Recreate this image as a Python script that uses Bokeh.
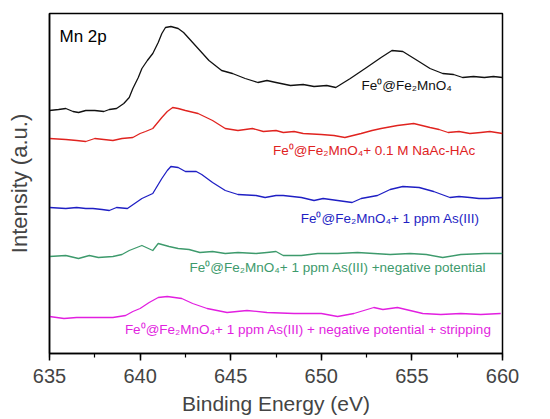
from bokeh.plotting import figure
from bokeh.models import Range1d, FixedTicker, Label
from bokeh.embed import file_html
from bokeh.resources import INLINE

# ---- data (binding energy in eV, intensity in arbitrary units, already offset) ----
e_black = [635.0, 635.5, 635.9, 636.3, 636.6, 637.0, 637.5, 638.0, 638.3, 638.7, 639.1, 639.4, 639.6,
           639.9, 640.1, 640.4, 640.7, 641.0, 641.2, 641.4, 641.7, 642.1, 642.4,
           642.7, 643.2, 643.8, 644.5, 645.1, 645.8, 646.5, 647.0, 647.5, 648.3, 649.0, 649.6, 650.3, 650.8, 651.6,
           652.5, 653.3, 653.9, 654.5, 655.3, 656.0, 656.7, 657.3, 657.8, 658.4, 659.0, 659.5, 660.0]
i_black = [243, 244, 245, 242, 241, 243, 243, 242, 244, 245, 250, 256, 265,
           276, 285, 293, 300, 311, 320, 326, 327, 325, 321,
           315, 305, 293, 283, 280, 275, 271, 273, 271, 268, 269, 267, 268, 266, 275,
           286, 296, 303, 302, 293, 285, 280, 279, 276, 277, 276, 277, 276]

e_red = [635.0, 635.9, 636.5, 637.0, 637.5, 638.0, 638.5, 639.0, 639.6, 640.0, 640.3, 640.7, 641.2, 641.5, 641.8, 642.1, 642.5, 643.2,
         644.0, 644.7, 645.4, 646.2, 646.8, 647.5, 647.9, 648.5, 649.0, 650.0, 650.7, 651.3, 652.2, 652.8, 653.3,
         654.2, 655.1, 656.0, 656.5, 657.0, 657.6, 658.2, 658.8, 659.3, 660.0]
i_red = [215, 214, 213, 212, 215, 214, 213, 215, 216, 220, 222, 225, 236, 242, 246, 245, 243, 240,
         233, 225, 223, 225, 222, 223, 221, 222, 220, 219, 218, 216, 220, 223, 225,
         228, 230, 226, 224, 221, 222, 220, 221, 222, 220]

e_blue = [635.0, 635.9, 636.5, 637.0, 637.4, 637.9, 638.3, 638.7, 639.3, 639.7, 640.1, 640.7, 641.2, 641.5, 641.7, 642.1,
          642.5, 643.1, 643.4, 644.0, 644.7, 645.4, 646.4, 646.9, 647.5, 647.9, 648.9, 649.6,
          650.1, 650.9, 651.7, 652.2, 653.1, 653.8, 654.5, 655.4, 656.2, 657.1, 657.6, 658.2, 658.7, 659.2, 660.0]
i_blue = [146, 145, 146, 145, 145, 144, 143, 146, 145, 150, 155, 160, 175, 183, 187, 186,
          182, 182, 179, 171, 163, 159, 158, 156, 158, 158, 156, 153,
          155, 153, 151, 155, 158, 164, 167, 166, 162, 156, 157, 156, 155, 155, 156]

e_green = [635.0, 635.9, 636.6, 637.2, 637.7, 638.5, 639.0, 639.4, 640.1, 640.7, 641.0, 641.6, 642.1,
           642.7, 643.3, 644.0, 644.7, 645.4, 646.4, 647.0, 647.5, 647.9, 648.9, 649.8, 650.9, 652.0,
           652.9, 653.8, 654.9, 655.8, 656.7, 657.7, 659.0, 660.0]
i_green = [97, 98, 95, 98, 96, 97, 99, 103, 108, 103, 110, 107, 105,
           104, 101, 102, 100, 101, 100, 101, 102, 98, 98, 100, 100, 101,
           100, 99, 100, 99, 96, 99, 100, 100]

e_mag = [635.0, 635.8, 636.5, 637.4, 638.5, 639.2, 639.6, 640.0, 640.5, 641.0, 641.5, 642.3,
         642.9, 643.7, 644.8, 645.9, 647.0, 648.5, 650.0, 650.9, 651.8, 652.9, 653.4, 654.2,
         654.9, 655.6, 656.6, 657.7, 658.8, 659.9]
i_mag = [37, 35, 36, 36, 36, 38, 42, 45, 51, 56, 57, 55,
         50, 45, 41, 43, 41, 40, 40, 37, 40, 46, 44, 46,
         43, 40, 39, 40, 39, 40]

series_labels = ["Fe\u2070@Fe\u2082MnO\u2084",
                 "Fe\u2070@Fe\u2082MnO\u2084+ 0.1 M NaAc-HAc",
                 "Fe\u2070@Fe\u2082MnO\u2084+ 1 ppm As(III)",
                 "Fe\u2070@Fe\u2082MnO\u2084+ 1 ppm As(III) +negative potential",
                 "Fe\u2070@Fe\u2082MnO\u2084+ 1 ppm As(III) + negative potential + stripping"]
x_ticks = [635, 640, 645, 650, 655, 660]

colors = ["#111111", "#e0231f", "#1f1fc4", "#3d9a6c", "#e21fe0"]
# right edge (eV) and vertical centre (intensity) of each series' label
label_pos = [(657.2, 268), (658.5, 203), (658.75, 135), (659.1, 86), (659.4, 24)]

FONT = "Liberation Sans"

p = figure(width=550, height=419, output_backend="svg", toolbar_location=None,
           x_range=Range1d(635, 660), y_range=Range1d(0, 340),
           min_border_left=49, min_border_right=48, min_border_top=13, min_border_bottom=66)
p.background_fill_color = "white"
p.border_fill_color = "white"
p.outline_line_color = "black"
p.outline_line_width = 1.5
p.grid.visible = False

for xs, ys, c in zip([e_black, e_red, e_blue, e_green, e_mag],
                     [i_black, i_red, i_blue, i_green, i_mag], colors):
    p.line(xs, ys, line_color=c, line_width=1.3, line_join="round")

for (lx, ly), txt, c in zip(label_pos, series_labels, colors):
    p.add_layout(Label(x=lx, y=ly, text=txt, text_color=c, text_font=FONT,
                       text_font_size="13.5px", text_align="right", text_baseline="middle"))

p.add_layout(Label(x=635.55, y=317, text="Mn 2p", text_color="black", text_font=FONT,
                   text_font_size="17px", text_align="left", text_baseline="middle"))

xa = p.xaxis[0]
xa.ticker = FixedTicker(ticks=x_ticks, minor_ticks=[635 + 2.5 * k for k in range(11)])
xa.axis_label = "Binding Energy (eV)"
xa.axis_label_text_font = FONT
xa.axis_label_text_font_size = "21px"
xa.axis_label_text_font_style = "normal"
xa.axis_label_standoff = 6
xa.major_label_text_font = FONT
xa.major_label_text_font_size = "20px"
xa.major_label_standoff = 8
xa.major_tick_out = 7
xa.major_tick_in = 0
xa.minor_tick_out = 4
xa.minor_tick_in = 0
xa.axis_line_width = 1.5
xa.major_tick_line_width = 1.5
xa.minor_tick_line_width = 1.2

ya = p.yaxis[0]
ya.ticker = FixedTicker(ticks=[])
ya.axis_label = "Intensity (a.u.)"
ya.axis_label_text_font = FONT
ya.axis_label_text_font_size = "22px"
ya.axis_label_text_font_style = "normal"
ya.axis_label_standoff = 18
ya.major_tick_line_color = None
ya.minor_tick_line_color = None
ya.axis_line_width = 1.5

open("out.html", "w").write(file_html(p, INLINE))
